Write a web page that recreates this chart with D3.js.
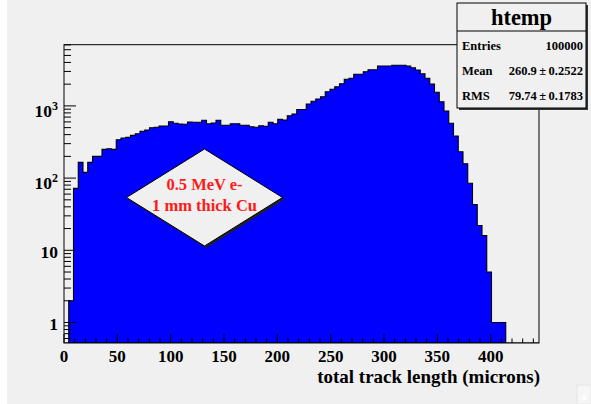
<!DOCTYPE html>
<html><head><meta charset="utf-8">
<script src="https://cdn.jsdelivr.net/npm/d3@7"></script>
<style>body{margin:0;background:#fff}svg{display:block}text{font-family:"Liberation Serif","Times New Roman",serif;font-weight:bold}</style>
</head><body>
<svg id="c" width="591" height="404"></svg>
<script>
// ---- data ----
const xMin = 0, xMax = 445.3, nBins = 100;
const counts = [0,2,72,165,120,165,200,200,250,255,
  250,340,359,367,391,412,445,464,499,505,
  527,527,604,574,561,556,598,593,593,632,
  567,580,632,539,539,567,567,539,539,515,
  505,532,522,593,567,652,638,731,772,891,
  891,1063,1158,1247,1341,1573,1698,1845,2029,2335,
  2411,2739,2739,2977,3172,3172,3571,3571,3571,3650,
  3650,3650,3571,3380,3141,2792,2411,2000,1543,1143,
  850,574,383,232,158,85,43,22,16,5,
  1,1,1,0,0,0,0,0,0,0];
const xTickValues = [0,50,100,150,200,250,300,350,400];
const yMajor = [1,10,100,1000];
const yLabels = [{b:"1",s:""},{b:"10",s:""},{b:"10",s:"2"},{b:"10",s:"3"}];
const statsTitle = "htemp";
const statsRows = [["Entries","100000"],["Mean","260.9\u2009\u00b1\u20090.2522"],["RMS","79.74\u2009\u00b1\u20090.1783"]];
const noteLines = ["0.5 MeV e-","1 mm thick Cu"];
const xTitle = "total track length (microns)";

// ---- layout ----
const L = 64, R = 539, T = 44.7, B = 343;
const svg = d3.select("#c");
svg.append("rect").attr("x",7).attr("y",0).attr("width",584).attr("height",404).attr("fill","#f0f0f0");

const x = d3.scaleLinear().domain([xMin,xMax]).range([L,R]);
const y = d3.scaleLog().domain([0.52,7040]).range([B,T]);
const bw = (xMax-xMin)/nBins;

// histogram path
const clip = svg.append("clipPath").attr("id","pc");
clip.append("rect").attr("x",L).attr("y",T).attr("width",R-L).attr("height",B-T);
let pts = [[x(0),B]];
counts.forEach((v,i)=>{
  const yy = v>0 ? y(v) : B;
  pts.push([x(i*bw),yy]); pts.push([x((i+1)*bw),yy]);
});
pts.push([x(nBins*bw),B]);
svg.append("path").attr("clip-path","url(#pc)")
  .attr("d", d3.line()(pts)+"Z")
  .attr("fill","#0000ff").attr("stroke","#000").attr("stroke-width",1.1);

// frame
svg.append("rect").attr("x",L).attr("y",T).attr("width",R-L).attr("height",B-T)
  .attr("fill","none").attr("stroke","#000").attr("stroke-width",1);

// x ticks
const g = svg.append("g").attr("stroke","#000").attr("stroke-width",1);
d3.range(0, xMax, 10).forEach(v=>{
  const major = v%50===0;
  g.append("line").attr("x1",x(v)).attr("x2",x(v)).attr("y1",B).attr("y2",B-(major?9:4.5));
});
svg.selectAll(".xl").data(xTickValues).enter().append("text")
  .attr("x",d=>x(d)).attr("y",361.5).attr("text-anchor","middle")
  .attr("font-size",17).text(d=>d);
svg.append("text").attr("x",540).attr("y",383).attr("text-anchor","end")
  .attr("font-size",19).text(xTitle);

// y ticks (log)
const yMinor = [];
[0.1,1,10,100,1000].forEach(d=>{ for(let k=1;k<10;k++){ const v=d*k; if(v>=0.52 && v<=7040) yMinor.push(v);} });
yMinor.forEach(v=>{
  const major = yMajor.includes(v);
  g.append("line").attr("x1",L).attr("x2",L+(major?12:7)).attr("y1",y(v)).attr("y2",y(v));
});
yMajor.forEach((v,i)=>{
  const lab = yLabels[i];
  const t = svg.append("text").attr("x",58).attr("text-anchor","end").attr("font-size",17.5)
    .attr("y", y(v) + (lab.s ? 11 : 7.8));
  t.append("tspan").text(lab.b);
  if(lab.s) t.append("tspan").attr("font-size",12).attr("dy",-7).text(lab.s);
});

// diamond annotation
const dc = [204.5,197.5], dw = 78, dh = 48.5;
const dpts = [[dc[0],dc[1]-dh],[dc[0]+dw,dc[1]],[dc[0],dc[1]+dh],[dc[0]-dw,dc[1]]];
svg.append("polygon").attr("points",dpts.map(p=>[p[0]+1.5,p[1]+2].join(",")).join(" ")).attr("fill","#222");
svg.append("polygon").attr("points",dpts.map(p=>p.join(",")).join(" "))
  .attr("fill","#f0f0f0").attr("stroke","#000").attr("stroke-width",1);
noteLines.forEach((s,i)=>{
  svg.append("text").attr("x",dc[0]).attr("y",190+i*20.5).attr("text-anchor","middle")
    .attr("font-size",16.5).attr("fill","#ff1a1a").text(s);
});

// stats box
const sx0=457, sx1=586, sy0=3, sy1=108;
svg.append("rect").attr("x",sx0+2).attr("y",sy0+2).attr("width",sx1-sx0).attr("height",sy1-sy0).attr("fill","#333");
svg.append("rect").attr("x",sx0).attr("y",sy0).attr("width",sx1-sx0).attr("height",sy1-sy0)
  .attr("fill","#f0f0f0").attr("stroke","#000").attr("stroke-width",1);
svg.append("line").attr("x1",sx0).attr("x2",sx1).attr("y1",31).attr("y2",31).attr("stroke","#000");
svg.append("text").attr("x",(sx0+sx1)/2).attr("y",25).attr("text-anchor","middle").attr("font-size",22.5).text(statsTitle);
statsRows.forEach((r,i)=>{
  svg.append("text").attr("x",462).attr("y",49.5+i*25).attr("font-size",12.5).text(r[0]);
  svg.append("text").attr("x",583).attr("y",49.5+i*25).attr("text-anchor","end").attr("font-size",12.5).text(r[1]);
});

// corner widget
svg.append("rect").attr("x",577).attr("y",385).attr("width",14).attr("height",19).attr("fill","#f6f6f6").attr("stroke","#e4e4e4");
svg.append("text").attr("x",584).attr("y",400).attr("text-anchor","middle").attr("font-size",11).attr("fill","#fff").attr("font-family","DejaVu Sans").text("x");
</script>
</body></html>
